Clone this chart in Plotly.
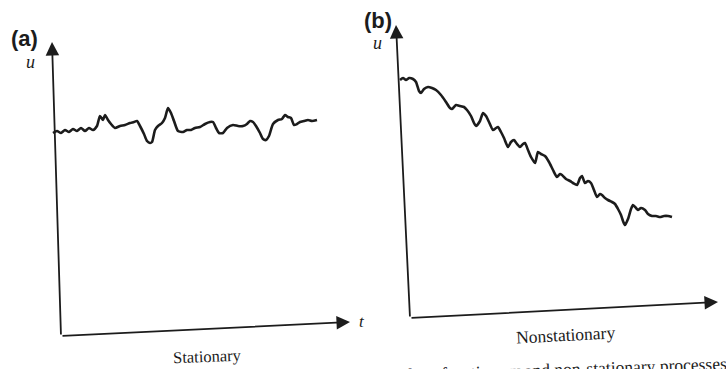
import numpy as np
import plotly.graph_objects as go
from plotly.subplots import make_subplots

# ---- data (panel coordinates, pixels-like units) ----
# Panel (a): stationary record, t along horizontal, u vertical (read positions)
stat_px = [53, 57, 61, 65, 69, 73, 77, 81, 85, 89, 93, 97, 100, 103, 105, 108, 111, 115, 120, 125,
           130, 134, 137, 140, 144, 147, 150, 152, 155, 158, 162, 165, 168, 171, 174, 178, 183, 187,
           191, 195, 200, 205, 210, 213, 216, 219, 223, 227, 233, 238, 243, 247, 250, 253, 256, 260,
           263, 266, 269, 273, 278, 282, 285, 288, 291, 294, 297, 300, 304, 308, 312, 317]
stat_py = [133, 131, 133, 130, 132, 129, 131, 128, 131, 128, 130, 126, 116, 120, 115, 120, 124, 128, 126, 125,
           123, 122, 121, 126, 134, 141, 143, 142, 130, 126, 123, 118, 108, 113, 121, 131, 132, 130,
           130, 128, 127, 124, 122, 122, 128, 133, 133, 128, 125, 126, 126, 124, 121, 122, 126, 133,
           139, 140, 136, 124, 120, 119, 115, 117, 118, 125, 124, 122, 121, 120, 121, 120]

# Panel (b): nonstationary record
nons_px = [400, 403, 406, 409, 413, 416, 419, 421, 424, 428, 432, 436, 441, 446, 450, 452, 456, 460, 464,
           467, 471, 474, 476, 480, 483, 486, 489, 493, 496, 498, 501, 504, 508, 511, 514, 517, 520, 523,
           525, 528, 531, 535, 538, 541, 545, 549, 553, 557, 560, 562, 566, 570, 573, 577, 580, 582, 585,
           588, 591, 594, 597, 600, 602, 605, 608, 612, 615, 618, 621, 623, 625, 628, 631, 633, 636, 638,
           641, 645, 648, 652, 656, 660, 664, 668, 672]
nons_py = [80, 78, 80, 78, 79, 82, 91, 93, 89, 87, 88, 90, 95, 102, 108, 109, 105, 106, 107,
           110, 116, 123, 126, 121, 113, 116, 122, 130, 128, 127, 132, 138, 147, 142, 140, 144, 147, 144,
           143, 150, 157, 163, 152, 154, 156, 162, 170, 177, 174, 175, 179, 181, 183, 185, 178, 176, 183,
           181, 183, 190, 197, 194, 195, 198, 200, 202, 204, 209, 215, 221, 225, 219, 209, 205, 208, 210,
           208, 210, 214, 216, 216, 217, 216, 216, 217]

# Axis corners and arrow tips
axes_a = {"corner": (61, 336), "ytip": (52, 42), "xtip": (350, 322)}
axes_b = {"corner": (410, 318), "ytip": (396, 25), "xtip": (718, 302)}

W, H = 726, 369
INK = "#1c1c1c"


def to_panel(px, py, corner):
    return np.array(px) - corner[0], corner[1] - np.array(py)


fig = make_subplots(rows=1, cols=2, horizontal_spacing=0)

ta, ua = to_panel(stat_px, stat_py, axes_a["corner"])
tb, ub = to_panel(nons_px, nons_py, axes_b["corner"])

fig.add_trace(go.Scatter(x=ta, y=ua, mode="lines", line=dict(color=INK, width=2.6, shape="spline", smoothing=0.6),
                         hoverinfo="skip", showlegend=False), row=1, col=1)
fig.add_trace(go.Scatter(x=tb, y=ub, mode="lines", line=dict(color=INK, width=2.6, shape="spline", smoothing=0.6),
                         hoverinfo="skip", showlegend=False), row=1, col=2)

annotations = []


def add_axes(axes, xr, yr):
    c = axes["corner"]
    for tipkey in ("ytip", "xtip"):
        tx, ty = axes[tipkey]
        annotations.append(dict(
            x=tx - c[0], y=c[1] - ty, ax=0, ay=0, xref=xr, yref=yr, axref=xr, ayref=yr,
            text="", showarrow=True, arrowhead=2, arrowsize=1.5, arrowwidth=1.8, arrowcolor=INK,
            standoff=0, startstandoff=0))


add_axes(axes_a, "x", "y")
add_axes(axes_b, "x2", "y2")


def label(px, py, corner, xr, yr, text, size, family, angle=0):
    annotations.append(dict(x=px - corner[0], y=corner[1] - py, xref=xr, yref=yr, text=text,
                            showarrow=False, textangle=angle,
                            font=dict(size=size, family=family, color=INK)))


ca, cb = axes_a["corner"], axes_b["corner"]
label(24, 38, ca, "x", "y", "<b>(a)</b>", 22, "Liberation Sans")
label(30, 62, ca, "x", "y", "<i>u</i>", 18, "Liberation Serif")
label(362, 321, ca, "x", "y", "<i>t</i>", 17, "Liberation Serif")
label(207, 356, ca, "x", "y", "Stationary", 16.5, "Liberation Serif", -2)
label(378, 20, cb, "x2", "y2", "<b>(b)</b>", 22, "Liberation Sans")
label(377, 43, cb, "x2", "y2", "<i>u</i>", 18, "Liberation Serif")
label(727, 300, cb, "x2", "y2", "<i>t</i>", 17, "Liberation Serif")
label(565, 335, cb, "x2", "y2", "Nonstationary", 17.5, "Liberation Serif", -3)

annotations.append(dict(x=543 / W, y=(H - 370) / H, xref="paper", yref="paper", xanchor="center", yanchor="middle",
                        text="Examples of stationary and non-stationary processes", showarrow=False,
                        textangle=-2, font=dict(size=17.5, family="Liberation Serif", color=INK)))

fig.update_layout(
    width=W, height=H, margin=dict(l=0, r=0, t=0, b=0),
    paper_bgcolor="white", plot_bgcolor="white", showlegend=False,
    annotations=annotations,
)
fig.update_xaxes(visible=False, fixedrange=True)
fig.update_yaxes(visible=False, fixedrange=True)
fig.update_layout(
    xaxis=dict(domain=[0, 0.5], range=[0 - ca[0], W / 2 - ca[0]]),
    yaxis=dict(domain=[0, 1], range=[ca[1] - H, ca[1]]),
    xaxis2=dict(domain=[0.5, 1], range=[W / 2 - cb[0], W - cb[0]]),
    yaxis2=dict(domain=[0, 1], range=[cb[1] - H, cb[1]]),
)

fig.write_html("out.html")
